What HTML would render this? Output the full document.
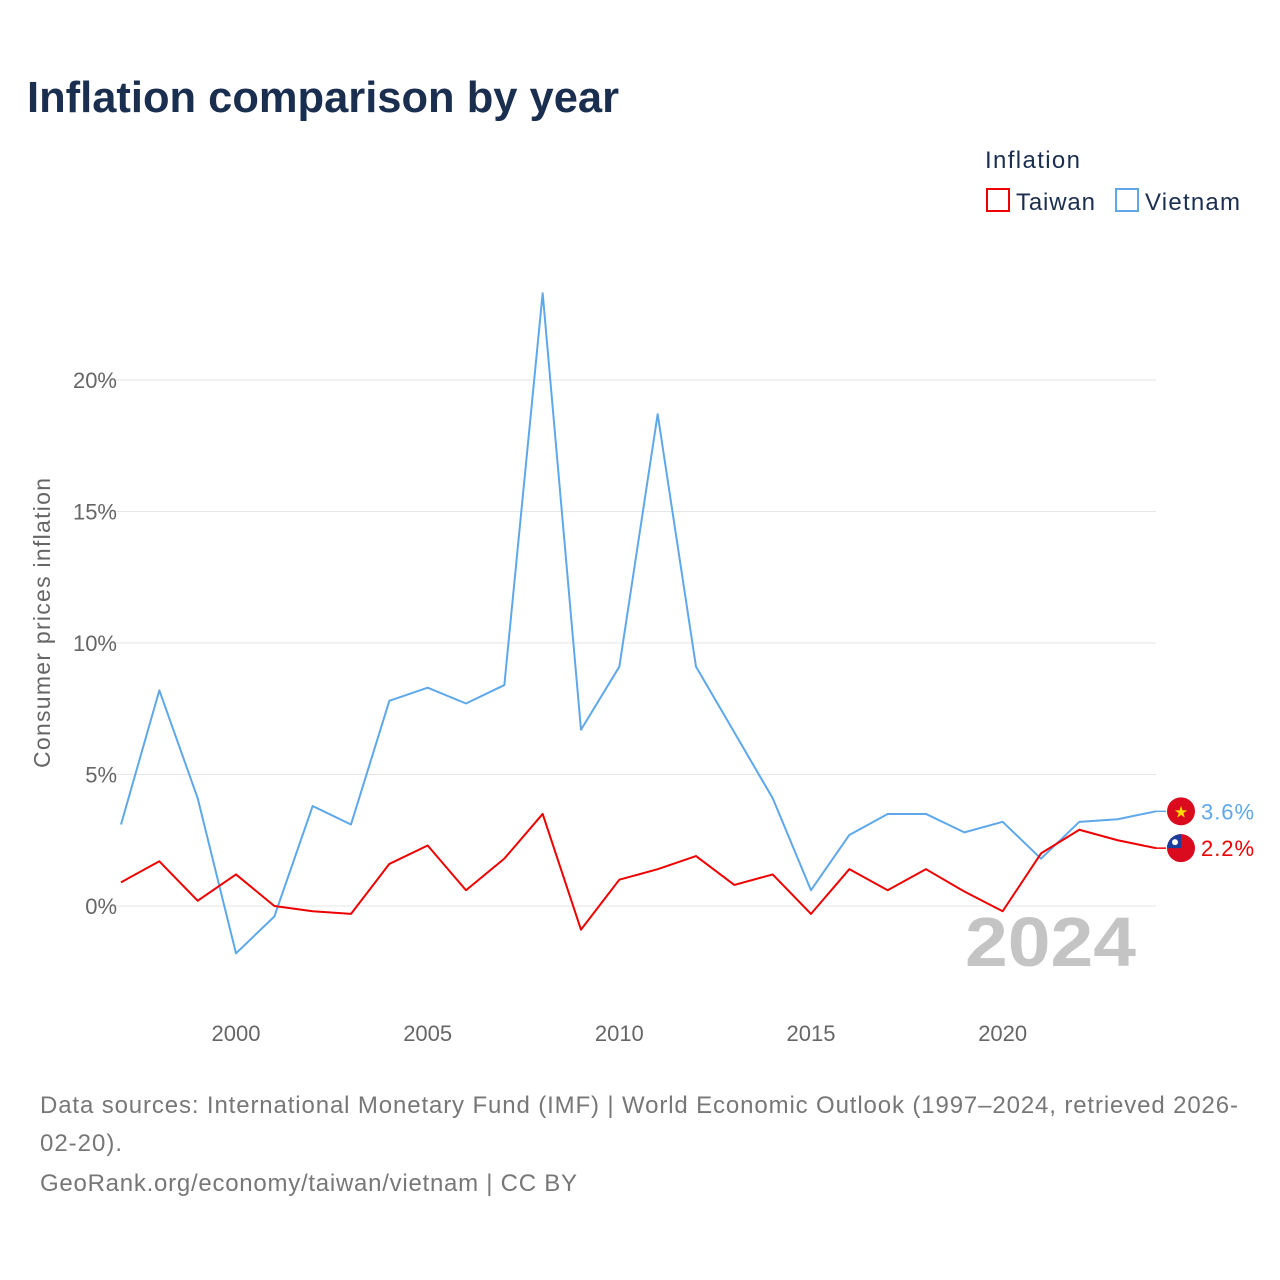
<!DOCTYPE html>
<html><head><meta charset="utf-8">
<style>
body{margin:0;width:1280px;height:1280px;background:#fff;font-family:"Liberation Sans",sans-serif;overflow:hidden}
svg{display:block}
</style></head>
<body>
<svg id="chart" width="1280" height="1280">
<text x="27" y="112" font-size="44" font-weight="bold" fill="#1a2e50" textLength="592" lengthAdjust="spacingAndGlyphs">Inflation comparison by year</text>
<g>
<text x="985" y="168" font-size="24" fill="#1a2e50" textLength="95">Inflation</text>
<g><rect x="987" y="189" width="22" height="22" fill="none" stroke="#ee0000" stroke-width="2"/><text x="1016" y="210" font-size="24" fill="#1a2e50" textLength="79">Taiwan</text></g>
<g><rect x="1116" y="189" width="22" height="22" fill="none" stroke="#5ea8ea" stroke-width="2"/><text x="1145" y="210" font-size="24" fill="#1a2e50" textLength="95">Vietnam</text></g>
</g>
<g id="grid"></g>
<g id="xticks"></g>
<text transform="translate(50,623) rotate(-90)" text-anchor="middle" font-size="23" fill="#666" textLength="290">Consumer prices inflation</text>
<text x="1136" y="966" text-anchor="end" font-size="70" font-weight="bold" fill="#c4c4c4" textLength="171" lengthAdjust="spacingAndGlyphs">2024</text>
<g id="series"></g>
<text x="40" y="1113" font-size="24" fill="#777" textLength="1198">Data sources: International Monetary Fund (IMF) | World Economic Outlook (1997–2024, retrieved 2026-</text>
<text x="40" y="1151" font-size="24" fill="#777" textLength="82">02-20).</text>
<text x="40" y="1191" font-size="24" fill="#777" textLength="537">GeoRank.org/economy/taiwan/vietnam | CC BY</text>
</svg>
<script>
const years=[1997,1998,1999,2000,2001,2002,2003,2004,2005,2006,2007,2008,2009,2010,2011,2012,2013,2014,2015,2016,2017,2018,2019,2020,2021,2022,2023,2024];
const vietnam=[3.1,8.2,4.1,-1.8,-0.4,3.8,3.1,7.8,8.3,7.7,8.4,23.3,6.7,9.1,18.7,9.1,6.6,4.1,0.6,2.7,3.5,3.5,2.8,3.2,1.8,3.2,3.3,3.6];
const taiwan=[0.9,1.7,0.2,1.2,0.0,-0.2,-0.3,1.6,2.3,0.6,1.8,3.5,-0.9,1.0,1.4,1.9,0.8,1.2,-0.3,1.4,0.6,1.4,0.55,-0.2,2.0,2.9,2.5,2.2];
const yTicks=[0,5,10,15,20];
const xTicks=[2000,2005,2010,2015,2020];
const NS="http://www.w3.org/2000/svg";
const x=v=>121+(v-1997)*(1156-121)/27;
const y=v=>906-v*26.3;
function mk(t,a,p){const e=document.createElementNS(NS,t);for(const k in a)e.setAttribute(k,a[k]);p.appendChild(e);return e;}
const grid=document.getElementById('grid');
yTicks.forEach(t=>{
 const l=mk('line',{x1:110,x2:1156,y1:y(t),y2:y(t),stroke:'#e6e6e6','stroke-width':1},grid);
 
 
 const tx=mk('text',{x:117,y:y(t)+8,'text-anchor':'end','font-size':22,fill:'#666'},grid);
 tx.textContent=t+'%';
 
 
});
const xt=document.getElementById('xticks');
xTicks.forEach(t=>{
 const tx=mk('text',{x:x(t),y:1041,'text-anchor':'middle','font-size':22,fill:'#666'},xt);
 tx.textContent=t;
 
 
});
const s=document.getElementById('series');
function line(data,col,name,flag){
 const pts=data.map((v,i)=>x(years[i])+','+y(v)).join(' ');
 const p=mk('polyline',{points:pts,fill:'none',stroke:col,'stroke-width':2,'stroke-linejoin':'round'},s);
 
 
 const last=data[data.length-1],ly=y(last);
 mk('line',{x1:1156,x2:1166,y1:ly,y2:ly,stroke:col,'stroke-width':1.5},s);
 const c=mk('circle',{cx:1181,cy:ly,r:14,fill:'#da0a1f'},s);
 
 
 if(flag==='vn'){const st=mk('text',{x:1181,y:ly+6,'text-anchor':'middle','font-size':16,fill:'#ffdd00'},s);st.textContent='★';}
 else{mk('path',{d:`M1167 ${ly} A14 14 0 0 1 1181 ${ly-14} L1181 ${ly} Z`,fill:'#1a3da0'},s);mk('circle',{cx:1175,cy:ly-6,r:3,fill:'#fff'},s);}
 const lb=mk('text',{x:1201,y:ly+8,'font-size':22,fill:col,textLength:53},s);
 lb.textContent=last.toFixed(1)+'%';
 
 
}
line(vietnam,'#5ea8ea','vietnam','vn');
line(taiwan,'#ee0000','taiwan','tw');
</script>
</body></html>
